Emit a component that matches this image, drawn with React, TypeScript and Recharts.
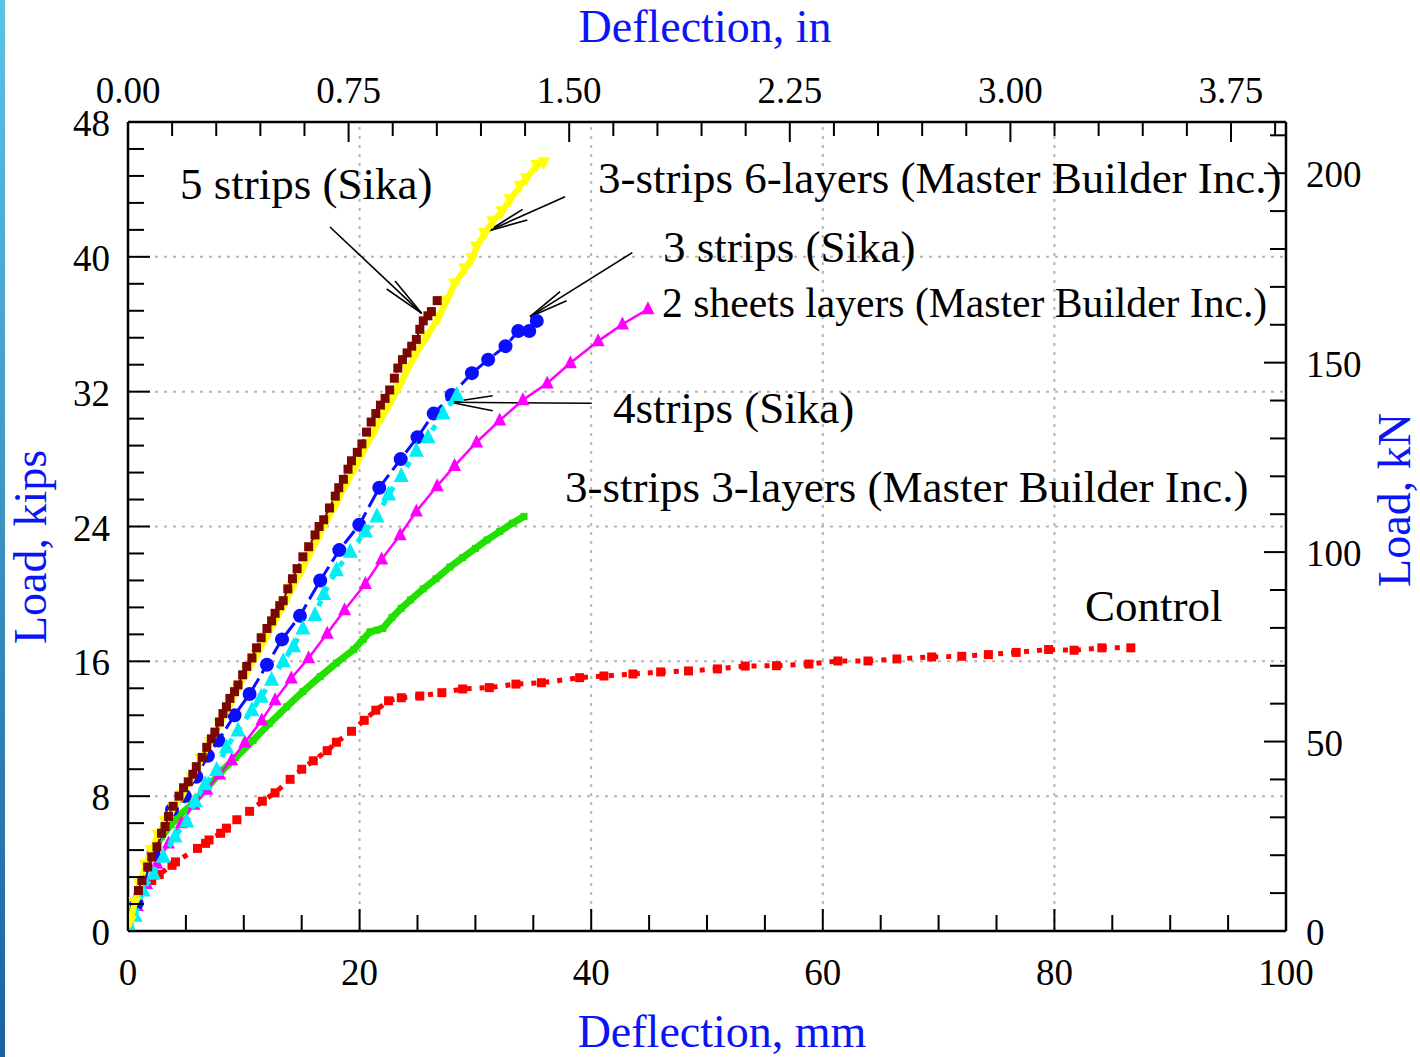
import React from "react";
import { ComposedChart, Scatter, XAxis, YAxis, ReferenceLine } from "recharts";

const W = 1420;
const H = 1057;
const FONT = '"Liberation Serif", "Times New Roman", serif';

// [deflection mm, load kips]
const control: number[][] = [
  [2.05, 3.0], [2.7, 3.35], [3.8, 3.9], [4.1, 4.1], [6.0, 4.9], [6.7, 5.2], [7.0, 5.4], [8.0, 5.8],
  [8.5, 6.1], [9.4, 6.6], [10.5, 7.1], [11.6, 7.7], [12.7, 8.2], [14.0, 9.0], [15.0, 9.6], [16.0, 10.1],
  [17.2, 10.7], [18.0, 11.2], [19.3, 11.85], [20.4, 12.5], [21.4, 13.1], [22.5, 13.66], [23.6, 13.84],
  [25.2, 13.94], [27.1, 14.14], [28.9, 14.36], [31.2, 14.44], [33.5, 14.65], [35.7, 14.73], [39.0, 15.03],
  [41.1, 15.13], [43.6, 15.25], [46.0, 15.37], [48.4, 15.43], [50.9, 15.55], [53.3, 15.72], [56.0, 15.74],
  [58.8, 15.84], [61.3, 16.02], [63.9, 16.02], [66.4, 16.14], [69.4, 16.26], [72.0, 16.3], [74.3, 16.4],
  [76.7, 16.53], [79.5, 16.7], [81.7, 16.66], [84.1, 16.8], [86.6, 16.8],
];

const threeStrips3Layers: number[][] = [
  [0, 0], [0.5, 1.5], [1.0, 2.7], [1.6, 3.8], [2.2, 4.8], [2.9, 5.6], [3.7, 6.3], [4.5, 6.9], [5.5, 7.5],
  [6.7, 8.4], [7.9, 9.35], [9.3, 10.3], [10.8, 11.3], [12.2, 12.3], [13.7, 13.3], [15.1, 14.2], [16.6, 15.1],
  [18.0, 15.9], [19.5, 16.7], [20.3, 17.3], [20.9, 17.75], [21.5, 17.85], [22.0, 17.95], [22.8, 18.6],
  [23.6, 19.15], [24.4, 19.65], [25.5, 20.3], [26.6, 20.9], [27.8, 21.6], [28.9, 22.15], [30.0, 22.7],
  [31.0, 23.2], [32.1, 23.7], [33.2, 24.2], [34.2, 24.6],
];

const twoSheets: number[][] = [
  [0, 0], [0.8, 1.5], [1.6, 2.8], [2.5, 4.0], [3.5, 5.2], [4.6, 6.4], [5.7, 7.5], [6.8, 8.4], [7.9, 9.3],
  [8.95, 10.15], [10.1, 11.2], [11.55, 12.5], [12.7, 13.7], [14.1, 15.0], [15.6, 16.2], [17.2, 17.65],
  [18.7, 19.05], [20.5, 20.6], [21.9, 22.05], [23.5, 23.5], [24.9, 24.9], [26.7, 26.4], [28.2, 27.6],
  [30.1, 29.0], [32.1, 30.3], [34.1, 31.5], [36.2, 32.5], [38.2, 33.7], [40.6, 35.0], [42.7, 36.0], [44.9, 36.9],
];

const fourStrips: number[][] = [
  [0.17, 0.2], [0.6, 0.9], [1.3, 2.4], [2.2, 3.4], [3.05, 4.4], [4.06, 5.6], [5.07, 6.5], [5.8, 7.7],
  [6.65, 8.7], [7.65, 9.55], [8.5, 10.9], [9.5, 11.9], [10.7, 13.1], [11.5, 13.9], [12.4, 14.9], [13.4, 16.0],
  [14.3, 16.9], [15.1, 17.95], [16.15, 18.75], [16.9, 20.0], [18.0, 21.4], [19.2, 22.5], [20.5, 23.7],
  [21.5, 24.6], [22.5, 25.9], [23.6, 27.0], [24.9, 28.5], [25.9, 29.3], [27.2, 30.7], [28.4, 31.8],
];

const threeStrips: number[][] = [
  [0.75, 1.64], [2.2, 4.6], [3.8, 7.2], [4.9, 8.0], [5.9, 9.15], [6.9, 10.4], [7.8, 11.3], [9.2, 12.8],
  [10.5, 14.06], [12.0, 15.8], [13.3, 17.3], [14.85, 18.7], [16.6, 20.8], [18.25, 22.6], [19.97, 24.1],
  [21.7, 26.3], [23.55, 28.0], [25.0, 29.3], [26.4, 30.7], [27.95, 31.8], [29.7, 33.1], [31.1, 33.9],
  [32.6, 34.7], [33.7, 35.6], [34.65, 35.6], [35.3, 36.2],
];

const threeStrips6Layers: number[][] = [
  [0.2, 0.6], [0.6, 1.7], [1.0, 2.8], [1.5, 3.9], [2.0, 4.8], [2.6, 5.7], [3.2, 6.5], [3.9, 7.3], [4.7, 8.1],
  [5.5, 9.1], [6.3, 10.2], [7.1, 11.2], [7.9, 12.3], [8.7, 13.3], [9.5, 14.4], [10.3, 15.4], [11.1, 16.4],
  [11.9, 17.4], [12.7, 18.4], [13.5, 19.4], [14.2, 20.4], [15.0, 21.4], [15.7, 22.4], [16.3, 23.2],
  [17.1, 24.3], [18.0, 25.4], [18.8, 26.5], [19.6, 27.5], [20.4, 28.6], [21.2, 29.6], [21.9, 30.5],
  [22.6, 31.3], [23.4, 32.3], [24.1, 33.3], [24.9, 34.3], [25.8, 35.3], [26.8, 36.4], [27.5, 37.4],
  [28.2, 38.4], [29.1, 39.3], [29.7, 39.9], [30.1, 40.6], [30.8, 41.4], [31.5, 42.1], [32.3, 42.7],
  [33.0, 43.4], [33.85, 44.2], [34.4, 44.65], [35.3, 45.45], [35.9, 45.6],
];

const fiveStrips: number[][] = [
  [0.9, 2.4], [1.2, 3.0], [1.7, 3.8], [2.05, 4.4], [2.5, 5.0], [2.9, 5.8], [3.2, 6.2], [3.5, 6.8], [3.9, 7.4],
  [4.4, 8.0], [4.8, 8.5], [5.2, 8.85], [5.6, 9.3], [5.9, 9.75], [6.4, 10.3], [6.8, 10.9], [7.2, 11.4],
  [7.5, 11.8], [7.9, 12.4], [8.2, 12.9], [8.5, 13.3], [8.8, 13.8], [9.2, 14.2], [9.5, 14.6], [9.9, 15.2],
  [10.25, 15.7], [10.7, 16.2], [11.1, 16.8], [11.5, 17.4], [12.0, 17.95], [12.4, 18.4], [12.7, 18.85],
  [13.1, 19.3], [13.4, 19.6], [13.8, 20.3], [14.2, 20.9], [14.6, 21.5], [15.1, 22.2], [15.6, 22.8],
  [16.15, 23.5], [16.5, 24.0], [16.9, 24.4], [17.4, 25.1], [17.9, 25.8], [18.2, 26.3], [18.6, 26.8],
  [19.0, 27.4], [19.3, 27.9], [19.8, 28.4], [20.2, 28.9], [20.6, 29.6], [21.0, 30.2], [21.4, 30.7],
  [21.8, 31.2], [22.2, 31.6], [22.6, 32.1], [23.0, 32.8], [23.3, 33.4], [23.7, 33.9], [24.1, 34.3],
  [24.5, 34.7], [24.9, 35.1], [25.2, 35.7], [25.5, 36.2], [25.9, 36.5], [26.2, 36.75], [26.7, 37.4],
];

// axis ticks
const MM_TICKS = [0, 5, 10, 15, 20, 25, 30, 35, 40, 45, 50, 55, 60, 65, 70, 75, 80, 85, 90, 95, 100];
const MM_LABELS = [0, 20, 40, 60, 80, 100];
const IN_TICKS = [
  0, 0.15, 0.3, 0.45, 0.6, 0.75, 0.9, 1.05, 1.2, 1.35, 1.5, 1.65, 1.8, 1.95, 2.1, 2.25, 2.4, 2.55, 2.7,
  2.85, 3.0, 3.15, 3.3, 3.45, 3.6, 3.75, 3.9,
];
const IN_LABELS = [0, 0.75, 1.5, 2.25, 3.0, 3.75];
const KIPS_TICKS = [
  0, 1.6, 3.2, 4.8, 6.4, 8, 9.6, 11.2, 12.8, 14.4, 16, 17.6, 19.2, 20.8, 22.4, 24, 25.6, 27.2, 28.8, 30.4,
  32, 33.6, 35.2, 36.8, 38.4, 40, 41.6, 43.2, 44.8, 46.4, 48,
];
const KIPS_LABELS = [0, 8, 16, 24, 32, 40, 48];
const KN_TICKS = [0, 10, 20, 30, 40, 50, 60, 70, 80, 90, 100, 110, 120, 130, 140, 150, 160, 170, 180, 190, 200, 210];
const KN_LABELS = [0, 50, 100, 150, 200];
const GRID_MM = [20, 40, 60, 80];
const GRID_KIPS = [8, 16, 24, 32, 40];

const MM_PER_IN = 25.4;
const KN_MAX = 48 * 4.44822;

// annotation arrows in mm / kips: tail, head, two barbs
const ARROWS: number[][][] = [
  [[17.44, 41.77], [25.36, 36.65], [23.06, 38.57], [22.34, 38.09]],
  [[37.74, 43.57], [31.11, 41.53], [34.08, 42.82], [34.48, 42.19]],
  [[43.55, 40.25], [34.72, 36.45], [37.31, 37.93], [37.88, 37.4]],
  [[40.04, 31.31], [27.81, 31.37], [31.49, 31.76], [31.49, 30.87]],
];

const toPts = (arr: number[][]) => arr.map(([x, y]) => ({ x, y }));
const isMajor = (labels: number[], v: number) => labels.some((l) => Math.abs(l - v) < 1e-6);

const tickText = { fontFamily: FONT, fontSize: 37, fill: "#000" };

const BottomTick = (p: any) => {
  const v = p.payload.value;
  const major = isMajor(MM_LABELS, v);
  return (
    <g>
      <line x1={p.x} y1={p.y} x2={p.x} y2={p.y - (major ? 22 : 16)} stroke="#000" strokeWidth={2} />
      {major && (
        <text x={p.x} y={p.y + 54} textAnchor="middle" {...tickText}>
          {v}
        </text>
      )}
    </g>
  );
};

// top axis is laid out in mm, labelled in inches
const TopTick = (p: any) => {
  const inches = p.payload.value / MM_PER_IN;
  const major = isMajor(IN_LABELS, inches);
  return (
    <g>
      <line x1={p.x} y1={p.y} x2={p.x} y2={p.y + (major ? 20 : 14)} stroke="#000" strokeWidth={2} />
      {major && (
        <text x={p.x} y={p.y - 19} textAnchor="middle" {...tickText}>
          {inches.toFixed(2)}
        </text>
      )}
    </g>
  );
};

const LeftTick = (p: any) => {
  const v = p.payload.value;
  const major = isMajor(KIPS_LABELS, v);
  return (
    <g>
      <line x1={p.x} y1={p.y} x2={p.x + (major ? 22 : 16)} y2={p.y} stroke="#000" strokeWidth={2} />
      {major && (
        <text x={p.x - 18} y={p.y + 14} textAnchor="end" {...tickText}>
          {v}
        </text>
      )}
    </g>
  );
};

const RightTick = (p: any) => {
  const v = p.payload.value;
  const major = isMajor(KN_LABELS, v);
  return (
    <g>
      <line x1={p.x} y1={p.y} x2={p.x - (major ? 22 : 16)} y2={p.y} stroke="#000" strokeWidth={2} />
      {major && (
        <text x={p.x + 20} y={p.y + 14} textAnchor="start" {...tickText}>
          {v}
        </text>
      )}
    </g>
  );
};

const Square = (size: number, color: string) => (p: any) => (
  <rect x={p.cx - size / 2} y={p.cy - size / 2} width={size} height={size} fill={color} />
);
const TriUp = (s: number, color: string) => (p: any) => (
  <polygon
    points={`${p.cx},${p.cy - s * 0.6} ${p.cx - s / 2},${p.cy + s * 0.4} ${p.cx + s / 2},${p.cy + s * 0.4}`}
    fill={color}
  />
);
const TriDown = (s: number, color: string) => (p: any) => (
  <polygon
    points={`${p.cx},${p.cy + s * 0.6} ${p.cx - s / 2},${p.cy - s * 0.4} ${p.cx + s / 2},${p.cy - s * 0.4}`}
    fill={color}
  />
);
const Dot = (r: number, color: string) => (p: any) => <circle cx={p.cx} cy={p.cy} r={r} fill={color} />;

const annText = { fontFamily: FONT, fontSize: 45, fill: "#000" };
const titleText = { fontFamily: FONT, fontSize: 46, fill: "#0a14f5" };

export default function App() {
  return (
    <div style={{ position: "absolute", left: 0, top: 0, width: W, height: H, background: "#fff" }}>
      <div
        style={{
          position: "absolute",
          left: 0,
          top: 0,
          width: 5,
          height: H,
          background: "linear-gradient(#5cc3e4, #1a62a0)",
        }}
      />
      <ComposedChart
        width={W}
        height={H}
        margin={{ top: 72, right: 74, bottom: 76, left: 68 }}
        style={{ position: "absolute", left: 0, top: 0 }}
      >
        <XAxis
          xAxisId="mm"
          dataKey="x"
          type="number"
          orientation="bottom"
          domain={[0, 100]}
          ticks={MM_TICKS}
          interval={0}
          height={50}
          tickSize={0}
          tickMargin={0}
          tickLine={false}
          axisLine={{ stroke: "#000", strokeWidth: 2.5 }}
          tick={BottomTick}
          allowDataOverflow
        />
        <XAxis
          xAxisId="in"
          dataKey="x"
          type="number"
          orientation="top"
          domain={[0, 100]}
          ticks={IN_TICKS.map((v) => v * MM_PER_IN)}
          interval={0}
          height={50}
          tickSize={0}
          tickMargin={0}
          tickLine={false}
          axisLine={{ stroke: "#000", strokeWidth: 2.5 }}
          tick={TopTick}
          allowDataOverflow
        />
        <YAxis
          yAxisId="kips"
          dataKey="y"
          type="number"
          orientation="left"
          domain={[0, 48]}
          ticks={KIPS_TICKS}
          interval={0}
          width={60}
          tickSize={0}
          tickMargin={0}
          tickLine={false}
          axisLine={{ stroke: "#000", strokeWidth: 2.5 }}
          tick={LeftTick}
          allowDataOverflow
        />
        <YAxis
          yAxisId="kN"
          type="number"
          orientation="right"
          domain={[0, KN_MAX]}
          ticks={KN_TICKS}
          interval={0}
          width={60}
          tickSize={0}
          tickMargin={0}
          tickLine={false}
          axisLine={{ stroke: "#000", strokeWidth: 2.5 }}
          tick={RightTick}
          allowDataOverflow
        />

        {GRID_MM.map((g) => (
          <ReferenceLine
            key={"gx" + g}
            xAxisId="mm"
            yAxisId="kips"
            x={g}
            stroke="#b5b5b5"
            strokeWidth={2}
            strokeDasharray="3 6"
          />
        ))}
        {GRID_KIPS.map((g) => (
          <ReferenceLine
            key={"gy" + g}
            xAxisId="mm"
            yAxisId="kips"
            y={g}
            stroke="#b5b5b5"
            strokeWidth={2}
            strokeDasharray="3 6"
          />
        ))}

        <Scatter
          name="Control"
          xAxisId="mm"
          yAxisId="kips"
          data={toPts(control)}
          fill="#ff0000"
          line={{ stroke: "#ff0000", strokeWidth: 5, strokeDasharray: "5 8" }}
          shape={Square(9, "#ff0000")}
          isAnimationActive={false}
        />
        <Scatter
          name="3-strips 3-layers"
          xAxisId="mm"
          yAxisId="kips"
          data={toPts(threeStrips3Layers)}
          fill="#22e000"
          line={{ stroke: "#22e000", strokeWidth: 7 }}
          shape={Square(7, "#22e000")}
          isAnimationActive={false}
        />
        <Scatter
          name="2 sheets layers"
          xAxisId="mm"
          yAxisId="kips"
          data={toPts(twoSheets)}
          fill="#ff00ff"
          line={{ stroke: "#ff00ff", strokeWidth: 2.5 }}
          shape={TriUp(13, "#ff00ff")}
          isAnimationActive={false}
        />
        <Scatter
          name="3 strips (Sika)"
          xAxisId="mm"
          yAxisId="kips"
          data={toPts(threeStrips)}
          fill="#0a10ff"
          line={{ stroke: "#0a10ff", strokeWidth: 3, strokeDasharray: "16 6" }}
          shape={Dot(7, "#0a10ff")}
          isAnimationActive={false}
        />
        <Scatter
          name="4strips (Sika)"
          xAxisId="mm"
          yAxisId="kips"
          data={toPts(fourStrips)}
          fill="#00eef5"
          line={{ stroke: "#00eef5", strokeWidth: 5, strokeDasharray: "6 9" }}
          shape={TriUp(15, "#00eef5")}
          isAnimationActive={false}
        />
        <Scatter
          name="3-strips 6-layers"
          xAxisId="mm"
          yAxisId="kips"
          data={toPts(threeStrips6Layers)}
          fill="#ffff00"
          line={{ stroke: "#ffff00", strokeWidth: 6 }}
          shape={TriDown(13, "#ffff00")}
          isAnimationActive={false}
        />
        <Scatter
          name="5 strips (Sika)"
          xAxisId="mm"
          yAxisId="kips"
          data={toPts(fiveStrips)}
          fill="#7a0800"
          line={{ stroke: "#7a0800", strokeWidth: 2, strokeDasharray: "6 4" }}
          shape={Square(9, "#7a0800")}
          isAnimationActive={false}
        />

        {ARROWS.map((a, i) =>
          [a[0], a[2], a[3]].map((p, j) => (
            <ReferenceLine
              key={`ar${i}-${j}`}
              xAxisId="mm"
              yAxisId="kips"
              segment={[
                { x: p[0], y: p[1] },
                { x: a[1][0], y: a[1][1] },
              ]}
              stroke="#000"
              strokeWidth={1.6}
            />
          ))
        )}
      </ComposedChart>

      <svg
        width={W}
        height={H}
        style={{ position: "absolute", left: 0, top: 0, pointerEvents: "none" }}
      >
        <text x={705} y={42} textAnchor="middle" {...titleText}>
          Deflection, in
        </text>
        <text x={722} y={1047} textAnchor="middle" {...titleText}>
          Deflection, mm
        </text>
        <text x={46} y={547} textAnchor="middle" transform="rotate(-90 46 547)" {...titleText}>
          Load, kips
        </text>
        <text x={1410} y={500} textAnchor="middle" transform="rotate(-90 1410 500)" {...titleText}>
          Load, kN
        </text>

        <text x={180} y={199} {...annText}>5 strips (Sika)</text>
        <text x={598} y={193} {...annText}>3-strips 6-layers (Master Builder Inc.)</text>
        <text x={663} y={262} {...annText}>3 strips (Sika)</text>
        <text x={662} y={317} {...annText} fontSize={41.6}>2 sheets layers (Master Builder Inc.)</text>
        <text x={613} y={423} {...annText}>4strips (Sika)</text>
        <text x={565} y={502} {...annText}>3-strips 3-layers (Master Builder Inc.)</text>
        <text x={1085} y={621} {...annText}>Control</text>
      </svg>
    </div>
  );
}
